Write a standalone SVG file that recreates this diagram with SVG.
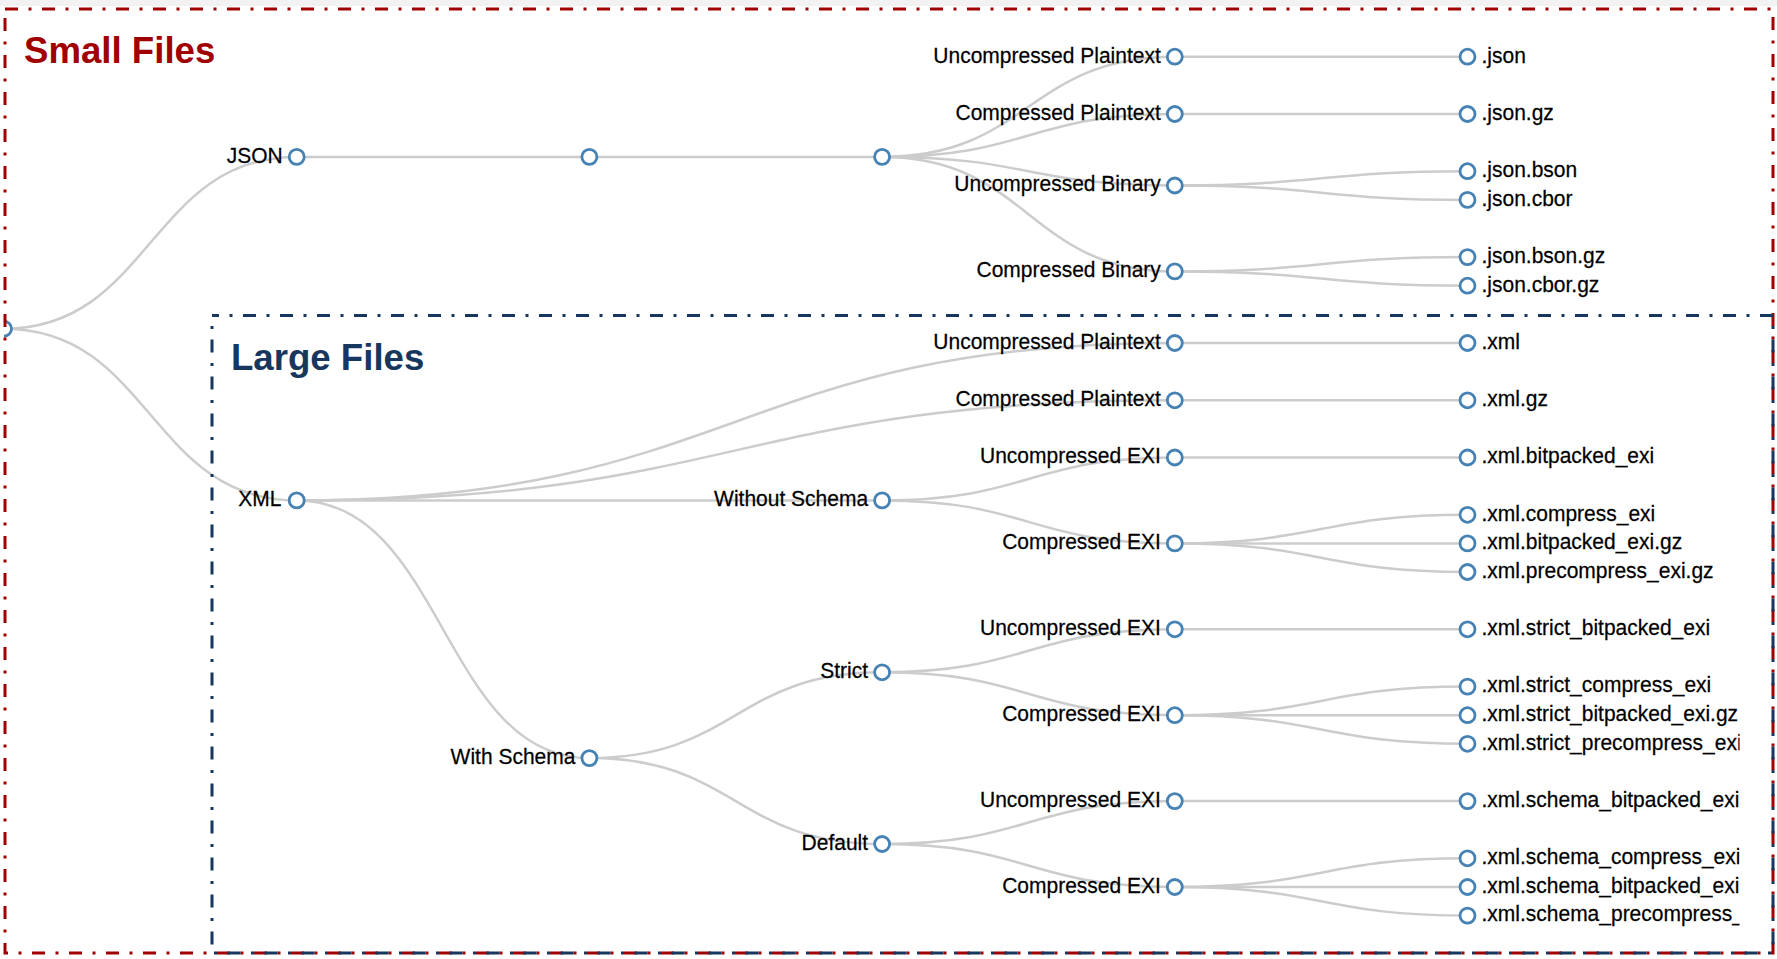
<svg xmlns="http://www.w3.org/2000/svg" width="1777" height="959" viewBox="0 0 1777 959">
<defs>
<clipPath id="treeClip"><rect x="4" y="0" width="1735.5" height="959"/></clipPath>
<style>
.link{fill:none;stroke:#cccccc;stroke-width:2.5}
.node circle{fill:#ffffff;stroke:#4682b4;stroke-width:2.8}
.node text{font-family:"Liberation Sans",Arial,Helvetica,sans-serif;font-size:22.5px;fill:#000000;stroke:#000000;stroke-width:0.25}
.node text.l{text-anchor:end}
.title{font-family:"Liberation Sans",Arial,Helvetica,sans-serif;font-weight:bold;font-size:37px}
.box{fill:none;stroke-width:3;stroke-dasharray:13 10.5 3 10.5}
</style>
</defs>
<rect x="0" y="0" width="1777" height="959" fill="#ffffff"/>
<rect x="0" y="0" width="1777" height="6" fill="#f2f2f2"/>

<g clip-path="url(#treeClip)">
<g id="links">
<path class="link" d="M4,328.7C150.35,328.7 150.35,156.9 296.7,156.9"/>
<path class="link" d="M4,328.7C150.35,328.7 150.35,500.4 296.7,500.4"/>
<path class="link" d="M296.7,156.9C443.05,156.9 443.05,156.9 589.4,156.9"/>
<path class="link" d="M589.4,156.9C735.75,156.9 735.75,156.9 882.1,156.9"/>
<path class="link" d="M882.1,156.9C1028.45,156.9 1028.45,56.7 1174.8,56.7"/>
<path class="link" d="M882.1,156.9C1028.45,156.9 1028.45,114 1174.8,114"/>
<path class="link" d="M882.1,156.9C1028.45,156.9 1028.45,185.5 1174.8,185.5"/>
<path class="link" d="M882.1,156.9C1028.45,156.9 1028.45,271.4 1174.8,271.4"/>
<path class="link" d="M1174.8,56.7C1321.15,56.7 1321.15,56.7 1467.5,56.7"/>
<path class="link" d="M1174.8,114C1321.15,114 1321.15,114 1467.5,114"/>
<path class="link" d="M1174.8,185.5C1321.15,185.5 1321.15,171.2 1467.5,171.2"/>
<path class="link" d="M1174.8,185.5C1321.15,185.5 1321.15,199.9 1467.5,199.9"/>
<path class="link" d="M1174.8,271.4C1321.15,271.4 1321.15,257.1 1467.5,257.1"/>
<path class="link" d="M1174.8,271.4C1321.15,271.4 1321.15,285.7 1467.5,285.7"/>
<path class="link" d="M296.7,500.4C735.75,500.4 735.75,343 1174.8,343"/>
<path class="link" d="M296.7,500.4C735.75,500.4 735.75,400.3 1174.8,400.3"/>
<path class="link" d="M296.7,500.4C589.4,500.4 589.4,500.4 882.1,500.4"/>
<path class="link" d="M296.7,500.4C443.05,500.4 443.05,758.1 589.4,758.1"/>
<path class="link" d="M1174.8,343C1321.15,343 1321.15,343 1467.5,343"/>
<path class="link" d="M1174.8,400.3C1321.15,400.3 1321.15,400.3 1467.5,400.3"/>
<path class="link" d="M882.1,500.4C1028.45,500.4 1028.45,457.5 1174.8,457.5"/>
<path class="link" d="M882.1,500.4C1028.45,500.4 1028.45,543.4 1174.8,543.4"/>
<path class="link" d="M1174.8,457.5C1321.15,457.5 1321.15,457.5 1467.5,457.5"/>
<path class="link" d="M1174.8,543.4C1321.15,543.4 1321.15,514.8 1467.5,514.8"/>
<path class="link" d="M1174.8,543.4C1321.15,543.4 1321.15,543.4 1467.5,543.4"/>
<path class="link" d="M1174.8,543.4C1321.15,543.4 1321.15,572 1467.5,572"/>
<path class="link" d="M589.4,758.1C735.75,758.1 735.75,672.3 882.1,672.3"/>
<path class="link" d="M589.4,758.1C735.75,758.1 735.75,844 882.1,844"/>
<path class="link" d="M882.1,672.3C1028.45,672.3 1028.45,629.3 1174.8,629.3"/>
<path class="link" d="M882.1,672.3C1028.45,672.3 1028.45,715.2 1174.8,715.2"/>
<path class="link" d="M1174.8,629.3C1321.15,629.3 1321.15,629.3 1467.5,629.3"/>
<path class="link" d="M1174.8,715.2C1321.15,715.2 1321.15,686.6 1467.5,686.6"/>
<path class="link" d="M1174.8,715.2C1321.15,715.2 1321.15,715.2 1467.5,715.2"/>
<path class="link" d="M1174.8,715.2C1321.15,715.2 1321.15,743.8 1467.5,743.8"/>
<path class="link" d="M882.1,844C1028.45,844 1028.45,801.1 1174.8,801.1"/>
<path class="link" d="M882.1,844C1028.45,844 1028.45,887 1174.8,887"/>
<path class="link" d="M1174.8,801.1C1321.15,801.1 1321.15,801.1 1467.5,801.1"/>
<path class="link" d="M1174.8,887C1321.15,887 1321.15,858.3 1467.5,858.3"/>
<path class="link" d="M1174.8,887C1321.15,887 1321.15,887 1467.5,887"/>
<path class="link" d="M1174.8,887C1321.15,887 1321.15,915.6 1467.5,915.6"/>
</g>

<g id="nodes">
<g id="n-root" class="node"><circle cx="4" cy="328.7" r="7.5"/></g>
<g id="n-json" class="node"><circle cx="296.7" cy="156.9" r="7.5"/><text class="l" transform="translate(282.7,162.7) scale(0.9333,1)">JSON</text></g>
<g id="n-json-2" class="node"><circle cx="589.4" cy="156.9" r="7.5"/></g>
<g id="n-json-3" class="node"><circle cx="882.1" cy="156.9" r="7.5"/></g>
<g id="n-json-up" class="node"><circle cx="1174.8" cy="56.7" r="7.5"/><text class="l" transform="translate(1160.8,62.5) scale(0.9333,1)">Uncompressed Plaintext</text></g>
<g id="n-json-cp" class="node"><circle cx="1174.8" cy="114" r="7.5"/><text class="l" transform="translate(1160.8,119.8) scale(0.9333,1)">Compressed Plaintext</text></g>
<g id="n-json-ub" class="node"><circle cx="1174.8" cy="185.5" r="7.5"/><text class="l" transform="translate(1160.8,191.3) scale(0.9333,1)">Uncompressed Binary</text></g>
<g id="n-json-cb" class="node"><circle cx="1174.8" cy="271.4" r="7.5"/><text class="l" transform="translate(1160.8,277.2) scale(0.9333,1)">Compressed Binary</text></g>
<g id="leaf-json" class="node"><circle cx="1467.5" cy="56.7" r="7.5"/><text transform="translate(1481.5,62.5) scale(0.9333,1)">.json</text></g>
<g id="leaf-json-gz" class="node"><circle cx="1467.5" cy="114" r="7.5"/><text transform="translate(1481.5,119.8) scale(0.9333,1)">.json.gz</text></g>
<g id="leaf-json-bson" class="node"><circle cx="1467.5" cy="171.2" r="7.5"/><text transform="translate(1481.5,177) scale(0.9333,1)">.json.bson</text></g>
<g id="leaf-json-cbor" class="node"><circle cx="1467.5" cy="199.9" r="7.5"/><text transform="translate(1481.5,205.7) scale(0.9333,1)">.json.cbor</text></g>
<g id="leaf-json-bson-gz" class="node"><circle cx="1467.5" cy="257.1" r="7.5"/><text transform="translate(1481.5,262.9) scale(0.9333,1)">.json.bson.gz</text></g>
<g id="leaf-json-cbor-gz" class="node"><circle cx="1467.5" cy="285.7" r="7.5"/><text transform="translate(1481.5,291.5) scale(0.9333,1)">.json.cbor.gz</text></g>

<g id="n-xml" class="node"><circle cx="296.7" cy="500.4" r="7.5"/><text class="l" transform="translate(281.5,506.2) scale(0.9333,1)">XML</text></g>
<g id="n-xml-up" class="node"><circle cx="1174.8" cy="343" r="7.5"/><text class="l" transform="translate(1160.8,348.8) scale(0.9333,1)">Uncompressed Plaintext</text></g>
<g id="n-xml-cp" class="node"><circle cx="1174.8" cy="400.3" r="7.5"/><text class="l" transform="translate(1160.8,406.1) scale(0.9333,1)">Compressed Plaintext</text></g>
<g id="n-without-schema" class="node"><circle cx="882.1" cy="500.4" r="7.5"/><text class="l" transform="translate(868.1,506.2) scale(0.9333,1)">Without Schema</text></g>
<g id="n-wos-ue" class="node"><circle cx="1174.8" cy="457.5" r="7.5"/><text class="l" transform="translate(1160.8,463.3) scale(0.9333,1)">Uncompressed EXI</text></g>
<g id="n-wos-ce" class="node"><circle cx="1174.8" cy="543.4" r="7.5"/><text class="l" transform="translate(1160.8,549.2) scale(0.9333,1)">Compressed EXI</text></g>
<g id="leaf-xml" class="node"><circle cx="1467.5" cy="343" r="7.5"/><text transform="translate(1481.5,348.8) scale(0.9333,1)">.xml</text></g>
<g id="leaf-xml-gz" class="node"><circle cx="1467.5" cy="400.3" r="7.5"/><text transform="translate(1481.5,406.1) scale(0.9333,1)">.xml.gz</text></g>
<g id="leaf-xml-bitpacked-exi" class="node"><circle cx="1467.5" cy="457.5" r="7.5"/><text transform="translate(1481.5,463.3) scale(0.9333,1)">.xml.bitpacked_exi</text></g>
<g id="leaf-xml-compress-exi" class="node"><circle cx="1467.5" cy="514.8" r="7.5"/><text transform="translate(1481.5,520.6) scale(0.9333,1)">.xml.compress_exi</text></g>
<g id="leaf-xml-bitpacked-exi-gz" class="node"><circle cx="1467.5" cy="543.4" r="7.5"/><text transform="translate(1481.5,549.2) scale(0.9333,1)">.xml.bitpacked_exi.gz</text></g>
<g id="leaf-xml-precompress-exi-gz" class="node"><circle cx="1467.5" cy="572" r="7.5"/><text transform="translate(1481.5,577.8) scale(0.9333,1)">.xml.precompress_exi.gz</text></g>

<g id="n-with-schema" class="node"><circle cx="589.4" cy="758.1" r="7.5"/><text class="l" transform="translate(575.4,763.9) scale(0.9333,1)">With Schema</text></g>
<g id="n-strict" class="node"><circle cx="882.1" cy="672.3" r="7.5"/><text class="l" transform="translate(868.1,678.1) scale(0.9333,1)">Strict</text></g>
<g id="n-default" class="node"><circle cx="882.1" cy="844" r="7.5"/><text class="l" transform="translate(868.1,849.8) scale(0.9333,1)">Default</text></g>
<g id="n-strict-ue" class="node"><circle cx="1174.8" cy="629.3" r="7.5"/><text class="l" transform="translate(1160.8,635.1) scale(0.9333,1)">Uncompressed EXI</text></g>
<g id="n-strict-ce" class="node"><circle cx="1174.8" cy="715.2" r="7.5"/><text class="l" transform="translate(1160.8,721) scale(0.9333,1)">Compressed EXI</text></g>
<g id="n-default-ue" class="node"><circle cx="1174.8" cy="801.1" r="7.5"/><text class="l" transform="translate(1160.8,806.9) scale(0.9333,1)">Uncompressed EXI</text></g>
<g id="n-default-ce" class="node"><circle cx="1174.8" cy="887" r="7.5"/><text class="l" transform="translate(1160.8,892.8) scale(0.9333,1)">Compressed EXI</text></g>
<g id="leaf-strict-bitpacked-exi" class="node"><circle cx="1467.5" cy="629.3" r="7.5"/><text transform="translate(1481.5,635.1) scale(0.9333,1)">.xml.strict_bitpacked_exi</text></g>
<g id="leaf-strict-compress-exi" class="node"><circle cx="1467.5" cy="686.6" r="7.5"/><text transform="translate(1481.5,692.4) scale(0.9333,1)">.xml.strict_compress_exi</text></g>
<g id="leaf-strict-bitpacked-exi-gz" class="node"><circle cx="1467.5" cy="715.2" r="7.5"/><text transform="translate(1481.5,721) scale(0.9333,1)">.xml.strict_bitpacked_exi.gz</text></g>
<g id="leaf-strict-precompress" class="node"><circle cx="1467.5" cy="743.8" r="7.5"/><text transform="translate(1481.5,749.6) scale(0.9333,1)">.xml.strict_precompress_exi</text></g>
<g id="leaf-schema-bitpacked-exi" class="node"><circle cx="1467.5" cy="801.1" r="7.5"/><text transform="translate(1481.5,806.9) scale(0.9333,1)">.xml.schema_bitpacked_exi</text></g>
<g id="leaf-schema-compress-exi" class="node"><circle cx="1467.5" cy="858.3" r="7.5"/><text transform="translate(1481.5,864.1) scale(0.9333,1)">.xml.schema_compress_exi</text></g>
<g id="leaf-schema-bitpacked-exi-2" class="node"><circle cx="1467.5" cy="887" r="7.5"/><text transform="translate(1481.5,892.8) scale(0.9333,1)">.xml.schema_bitpacked_exi</text></g>
<g id="leaf-schema-precompress" class="node"><circle cx="1467.5" cy="915.6" r="7.5"/><text transform="translate(1481.5,921.4) scale(0.9333,1)">.xml.schema_precompress_</text></g>
</g>
</g>

<g id="small-files-box">
<rect class="box" x="5" y="9" width="1768" height="944" stroke="#a00000"/>
<text class="title" fill="#a00000" transform="translate(24,63) scale(0.99,1)">Small Files</text>
</g>
<g id="large-files-box">
<rect class="box" x="212" y="315.5" width="1561" height="637.5" stroke="#17375e" stroke-dashoffset="6"/>
<text class="title" fill="#17375e" transform="translate(231,370) scale(0.99,1)">Large Files</text>
</g>
</svg>
